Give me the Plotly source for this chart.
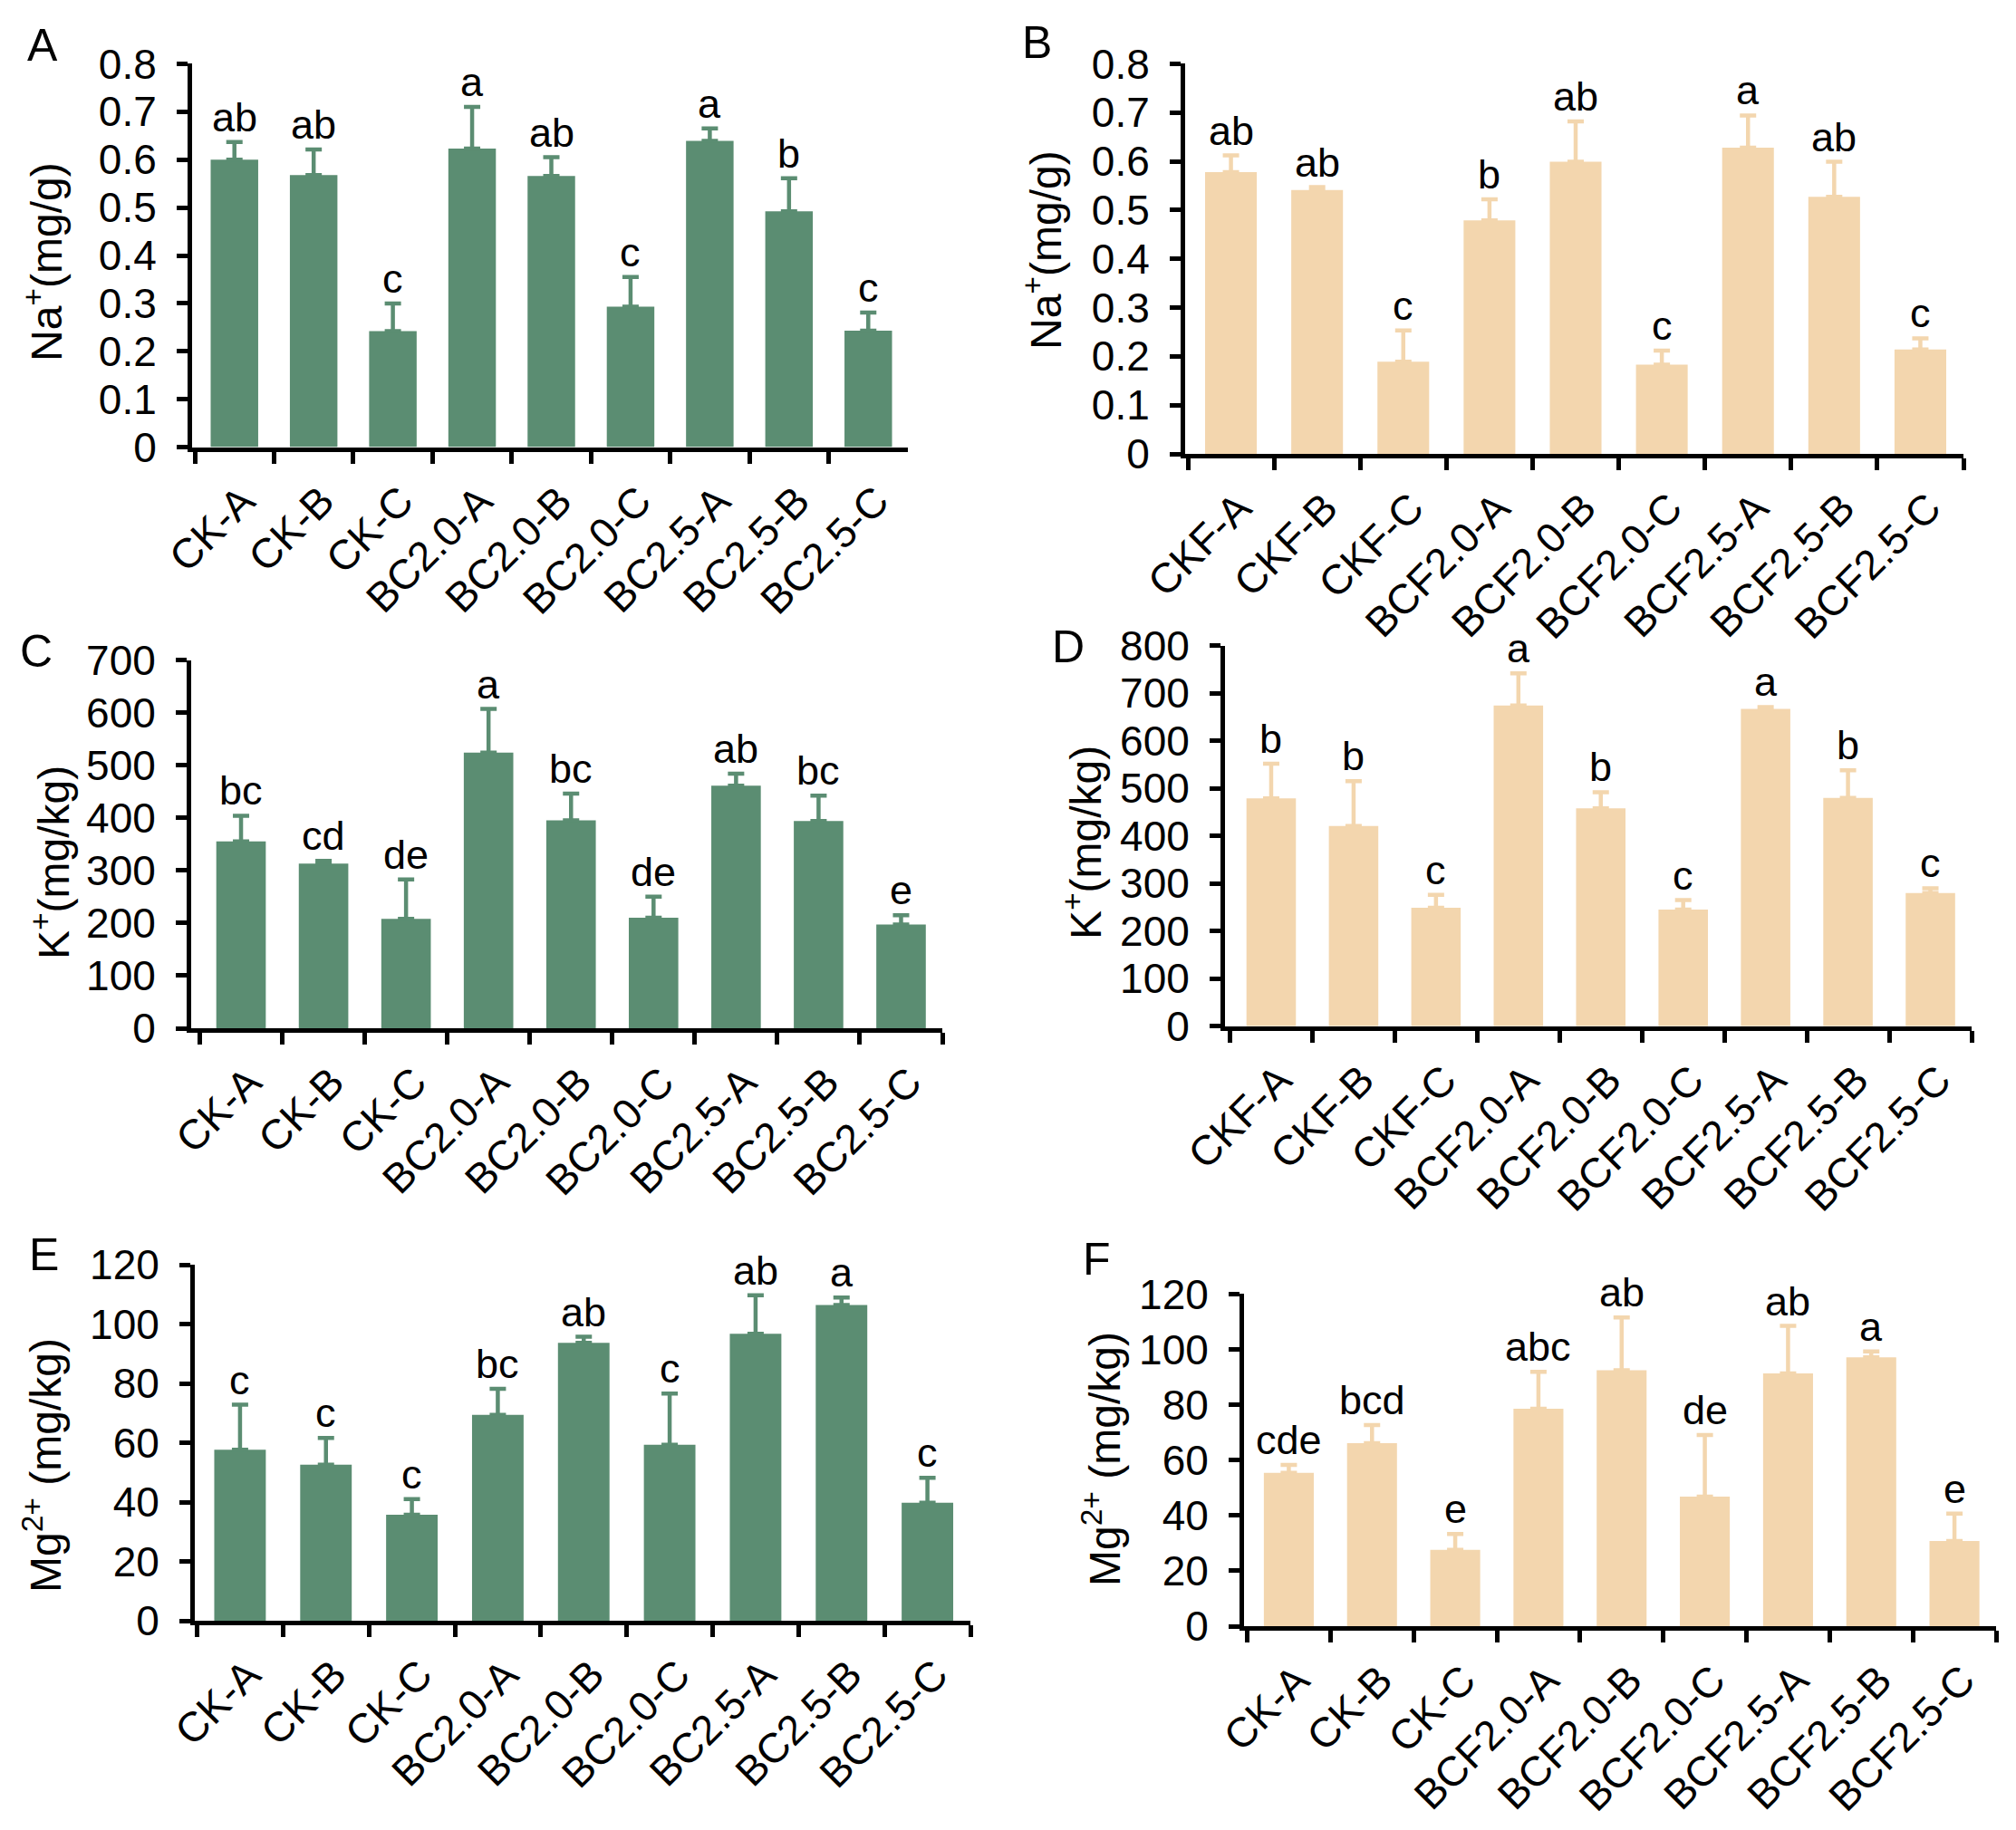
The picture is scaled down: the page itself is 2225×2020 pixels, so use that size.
import plotly.graph_objects as go

W, H = 2225, 2020
FONT = "Liberation Sans, Arial, Helvetica, sans-serif"
GREEN = "#5B8D72"
BEIGE = "#F3D6AE"

cats_ace = ["CK-A", "CK-B", "CK-C", "BC2.0-A", "BC2.0-B", "BC2.0-C", "BC2.5-A", "BC2.5-B", "BC2.5-C"]
cats_bd = ["CKF-A", "CKF-B", "CKF-C", "BCF2.0-A", "BCF2.0-B", "BCF2.0-C", "BCF2.5-A", "BCF2.5-B", "BCF2.5-C"]
cats_f = ["CK-A", "CK-B", "CK-C", "BCF2.0-A", "BCF2.0-B", "BCF2.0-C", "BCF2.5-A", "BCF2.5-B", "BCF2.5-C"]

na_bc = [0.600, 0.568, 0.242, 0.623, 0.566, 0.293, 0.639, 0.492, 0.243]
na_bc_err = [0.037, 0.053, 0.058, 0.087, 0.039, 0.062, 0.026, 0.069, 0.038]
na_bc_sig = ["ab", "ab", "c", "a", "ab", "c", "a", "b", "c"]

na_bcf = [0.578, 0.541, 0.189, 0.479, 0.599, 0.183, 0.628, 0.527, 0.214]
na_bcf_err = [0.034, 0.006, 0.064, 0.043, 0.083, 0.029, 0.066, 0.072, 0.023]
na_bcf_sig = ["ab", "ab", "c", "b", "ab", "c", "a", "ab", "c"]

k_bc = [355, 313, 208, 524, 395, 210, 461, 394, 197]
k_bc_err = [49, 5, 75, 83, 51, 40, 23, 48, 18]
k_bc_sig = ["bc", "cd", "de", "a", "bc", "de", "ab", "bc", "e"]

k_bcf = [479, 421, 249, 674, 458, 245, 667, 480, 280]
k_bcf_err = [73, 94, 27, 68, 34, 20, 4, 58, 10]
k_bcf_sig = ["b", "b", "c", "a", "b", "c", "a", "b", "c"]

mg_bc = [57.6, 52.6, 35.7, 69.4, 93.7, 59.3, 96.7, 106.4, 39.8]
mg_bc_err = [15.2, 9.0, 5.3, 8.8, 2.0, 17.3, 13.0, 2.5, 8.4]
mg_bc_sig = ["c", "c", "c", "bc", "ab", "c", "ab", "a", "c"]

mg_bcf = [55.4, 66.1, 27.6, 78.6, 92.5, 46.8, 91.3, 97.1, 30.8]
mg_bcf_err = [2.9, 6.6, 5.7, 13.3, 19.0, 22.3, 17.2, 2.2, 9.9]
mg_bcf_sig = ["cde", "bcd", "e", "abc", "ab", "de", "ab", "a", "e"]

panels = [
    dict(letter="A", cats=cats_ace, vals=na_bc, err=na_bc_err, sig=na_bc_sig, color=GREEN,
         ytitle="Na<sup>+</sup>(mg/g)", ymax=0.8, dtick=0.1),
    dict(letter="B", cats=cats_bd, vals=na_bcf, err=na_bcf_err, sig=na_bcf_sig, color=BEIGE,
         ytitle="Na<sup>+</sup>(mg/g)", ymax=0.8, dtick=0.1),
    dict(letter="C", cats=cats_ace, vals=k_bc, err=k_bc_err, sig=k_bc_sig, color=GREEN,
         ytitle="K<sup>+</sup>(mg/kg)", ymax=700, dtick=100),
    dict(letter="D", cats=cats_bd, vals=k_bcf, err=k_bcf_err, sig=k_bcf_sig, color=BEIGE,
         ytitle="K<sup>+</sup>(mg/kg)", ymax=800, dtick=100),
    dict(letter="E", cats=cats_ace, vals=mg_bc, err=mg_bc_err, sig=mg_bc_sig, color=GREEN,
         ytitle="Mg<sup>2+</sup> (mg/kg)", ymax=120, dtick=20),
    dict(letter="F", cats=cats_f, vals=mg_bcf, err=mg_bcf_err, sig=mg_bcf_sig, color=BEIGE,
         ytitle="Mg<sup>2+</sup> (mg/kg)", ymax=120, dtick=20),
]

# layout geometry in pixels: y-axis x, first boundary, last boundary, top, bottom,
# y-title center (x, y), panel letter center (x, y)
geom = [
    dict(ax=212, x0=215, x1=1002, top=70.4, bot=493.6, tt=(48, 289), lt=(47, 50)),
    dict(ax=1308, x0=1311, x1=2167, top=70.4, bot=501.0, tt=(1151, 276), lt=(1145, 47)),
    dict(ax=211, x0=220.5, x1=1040, top=728.5, bot=1135.0, tt=(56, 952), lt=(40, 719)),
    dict(ax=1352, x0=1357.5, x1=2176, top=712.7, bot=1132.7, tt=(1195, 930), lt=(1179, 714)),
    dict(ax=215, x0=217.5, x1=1071, top=1396.0, bot=1789.0, tt=(47, 1618), lt=(48, 1385)),
    dict(ax=1373, x0=1376.5, x1=2203, top=1428.4, bot=1795.0, tt=(1216, 1611), lt=(1210, 1390)),
]

fig = go.Figure()
annotations = []
layout = {}
for i, (p, g) in enumerate(zip(panels, geom), start=1):
    xa = "x" if i == 1 else f"x{i}"
    ya = "y" if i == 1 else f"y{i}"
    n = len(p["cats"])
    catw = (g["x1"] - g["x0"]) / n
    off = (g["x0"] - g["ax"]) / catw
    fig.add_trace(go.Bar(
        x=p["cats"], y=p["vals"], xaxis=xa, yaxis=ya,
        marker=dict(color=p["color"], line=dict(width=0)),
        width=0.6,
        error_y=dict(type="data", array=p["err"], arrayminus=[0] * n, symmetric=False,
                     color=p["color"], thickness=4.5, width=9),
        showlegend=False, hoverinfo="skip",
    ))
    for c, v, e, s in zip(p["cats"], p["vals"], p["err"], p["sig"]):
        annotations.append(dict(
            x=c, y=v + e, xref=xa, yref=ya, text=s, showarrow=False,
            xanchor="center", yanchor="bottom", yshift=0,
            font=dict(family=FONT, size=45, color="black"),
        ))
    annotations.append(dict(
        x=g["tt"][0] / W, y=1 - g["tt"][1] / H, xref="paper", yref="paper",
        text=p["ytitle"], textangle=-90, showarrow=False,
        xanchor="center", yanchor="middle",
        font=dict(family=FONT, size=48, color="black"),
    ))
    annotations.append(dict(
        x=g["lt"][0] / W, y=1 - g["lt"][1] / H, xref="paper", yref="paper",
        text=p["letter"], showarrow=False, xanchor="center", yanchor="middle",
        font=dict(family=FONT, size=50, color="black"),
    ))
    key = "" if i == 1 else str(i)
    layout["xaxis" + key] = dict(
        domain=[g["ax"] / W, g["x1"] / W], anchor=ya, automargin=False,
        type="category", range=[-0.5 - off, n - 0.5],
        showline=True, linecolor="black", linewidth=5,
        ticks="outside", tickson="boundaries", ticklen=13, tickwidth=4.5, tickcolor="black",
        tickangle=-45, ticklabelstandoff=9, ticklabelshift=9,
        tickfont=dict(family=FONT, size=46, color="black"),
        showgrid=False, zeroline=False, fixedrange=True,
    )
    layout["yaxis" + key] = dict(
        domain=[1 - g["bot"] / H, 1 - g["top"] / H], anchor=xa, automargin=False,
        range=[0, p["ymax"]], dtick=p["dtick"], tick0=0,
        showline=True, linecolor="black", linewidth=5,
        ticks="outside", ticklen=12, tickwidth=4.5, tickcolor="black",
        ticklabelstandoff=13,
        tickfont=dict(family=FONT, size=46, color="black"),
        showgrid=False, zeroline=False, fixedrange=True,
    )

fig.update_layout(
    template="none",
    width=W, height=H, margin=dict(l=0, r=0, t=0, b=0, autoexpand=False),
    paper_bgcolor="white", plot_bgcolor="white",
    annotations=annotations, **layout,
)

fig.write_html("out.html", config={"displayModeBar": False},
               post_script="document.body.style.margin='0';document.body.style.overflow='hidden';")
